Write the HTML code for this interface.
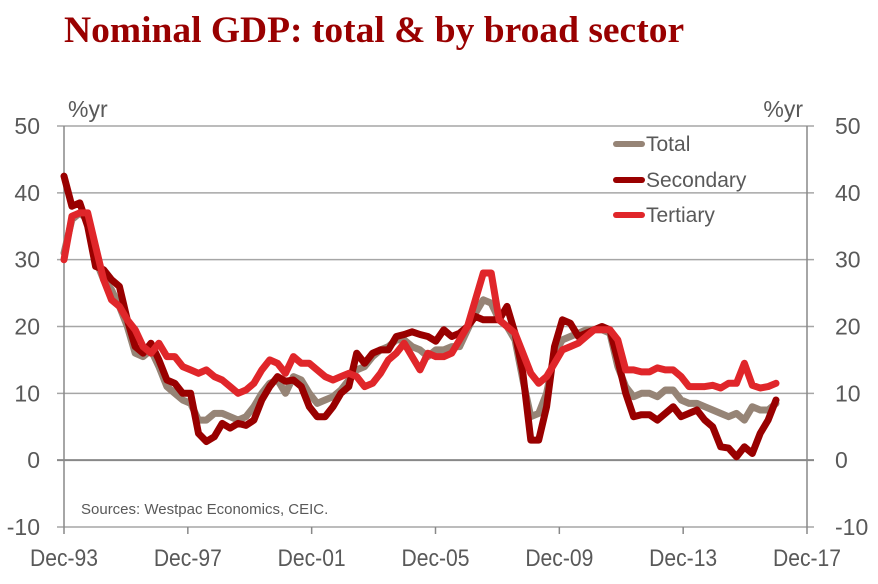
<!DOCTYPE html>
<html><head><meta charset="utf-8">
<style>
html,body{margin:0;padding:0;background:#fff;}
body{width:878px;height:584px;overflow:hidden;position:relative;}
.title{position:absolute;left:64px;top:9px;font-family:"Liberation Serif",serif;font-weight:bold;font-size:37.5px;color:#990000;white-space:nowrap;}
svg text{font-family:"Liberation Sans",sans-serif;fill:#595959;}
</style></head>
<body>
<div class="title">Nominal GDP: total &amp; by broad sector</div>
<svg id="chart" width="878" height="584" style="position:absolute;left:0;top:0"></svg>
<script>
const yTicks=[50,40,30,20,10,0,-10];
const xTickLabels=["Dec-93","Dec-97","Dec-01","Dec-05","Dec-09","Dec-13","Dec-17"];
const seriesNames=["Total","Secondary","Tertiary"];
const total=[31,36,37,36,30,27,25.5,23,20,16,15.5,16.5,14,11,10,9,8.5,6,6,7,7,6.5,6,6.5,8,10,11.5,12,10,12.5,12,10,8.5,9,9.5,10.5,12,13.5,14,15.5,16.5,17,18,18,17,16.5,15.5,16.5,16.5,17,17,19.5,22,24,23.5,21,20,18,12,6.5,7,10,16,18,18.5,19,19.5,19.5,19.5,19,14,11,9.5,10,10,9.5,10.5,10.5,9,8.5,8.5,8,7.5,7,6.5,7,6,8,7.5,7.5,8.5];
const secondary=[42.5,38,38.5,35,29,28.5,27,26,21,17,16,17.5,15,12,11.5,10,10,4,2.8,3.5,5.5,4.8,5.5,5.2,6,9,11,12.5,11.8,12,11,8,6.5,6.5,8,10,11,16,14.5,16,16.5,16.5,18.5,18.8,19.2,18.8,18.5,17.8,19.5,18.5,19,20,21.5,21,21,21,23,19,13,3,3,8,17,21,20.5,18.5,19,19.5,20,19.5,15,10,6.5,6.8,6.8,6,7,8,6.5,7,7.5,6,5,2,1.8,0.5,2,1,4,6,9];
const tertiary=[30,36.5,37,37,32,27,24,23,21,19.5,17,16,17.5,15.5,15.5,14,13.5,13,13.5,12.5,12,11,10,10.5,11.5,13.5,15,14.5,13,15.5,14.5,14.5,13.5,12.5,12,12.5,13,12.5,11,11.5,13,15,16,17.5,15.5,13.5,16,15.5,15.5,16,18,20,24,28,28,21,20,19,16,13,11.5,12.5,14.5,16.5,17,17.5,18.5,19.5,19.5,19.5,18,13.5,13.5,13.2,13.2,13.8,13.5,13.5,12.5,11,11,11,11.2,10.8,11.5,11.5,14.5,11.2,10.8,11,11.5];
const seriesColors=["#968476","#990000","#e0262a"];

const svg=document.getElementById('chart');
const NS='http://www.w3.org/2000/svg';
const X0=64,X1=807,Y0=527,Y1=126,YMIN=-10,YMAX=50;
const idxMax=(total.length-1)*96/92;
function xs(i){return X0+i*(X1-X0)/idxMax;}
function ys(v){return Y0-(v-YMIN)*(Y0-Y1)/(YMAX-YMIN);}
function mk(tag,attrs){const e=document.createElementNS(NS,tag);for(const k in attrs)e.setAttribute(k,attrs[k]);svg.appendChild(e);return e;}

yTicks.forEach(t=>{
  const g=mk('line',{x1:X0-7,x2:X1+7,y1:ys(t),y2:ys(t),stroke:t===0?'#888':'#a6a6a6','stroke-width':t===0?2:1.5});
  
  
  const l=mk('text',{x:40,y:ys(t)+8,'text-anchor':'end','font-size':23});
  l.textContent=t;
  
  
  const r=mk('text',{x:835,y:ys(t)+8,'text-anchor':'start','font-size':23});
  r.textContent=t;
  
  
});
const la=mk('line',{x1:X0,x2:X0,y1:Y1,y2:Y0,stroke:'#888','stroke-width':1.5});


const ra=mk('line',{x1:X1,x2:X1,y1:Y1,y2:Y0,stroke:'#888','stroke-width':1.5});


xTickLabels.forEach((lab,k)=>{
  const x=X0+k*(X1-X0)/(xTickLabels.length-1);
  const t=mk('line',{x1:x,x2:x,y1:Y0,y2:Y0+7,stroke:'#888','stroke-width':1.5});
  
  
  const tx=mk('text',{x:x,y:566,'text-anchor':'middle','font-size':24,textLength:68,lengthAdjust:'spacingAndGlyphs'});
  tx.textContent=lab;
  
  
});
const u1=mk('text',{x:68,y:117,'font-size':23});u1.textContent='%yr';


const u2=mk('text',{x:803,y:117,'font-size':23,'text-anchor':'end'});u2.textContent='%yr';


const src=mk('text',{x:81,y:514,'font-size':15});src.textContent='Sources: Westpac Economics, CEIC.';



[total,secondary,tertiary].forEach((arr,s)=>{
  const d=arr.map((v,i)=>(i?'L':'M')+xs(i).toFixed(1)+','+ys(v).toFixed(1)).join(' ');
  const p=mk('path',{d:d,fill:'none',stroke:seriesColors[s],'stroke-width':7,'stroke-linejoin':'round','stroke-linecap':'round'});
  
  
});
const legY=[144,180,215];
seriesNames.forEach((n,s)=>{
  const l=mk('line',{x1:616,x2:642,y1:legY[s],y2:legY[s],stroke:seriesColors[s],'stroke-width':6,'stroke-linecap':'round'});
  
  
  const t=mk('text',{x:646,y:legY[s]+7,'font-size':21});t.textContent=n;
  
  
});
</script>
</body></html>
